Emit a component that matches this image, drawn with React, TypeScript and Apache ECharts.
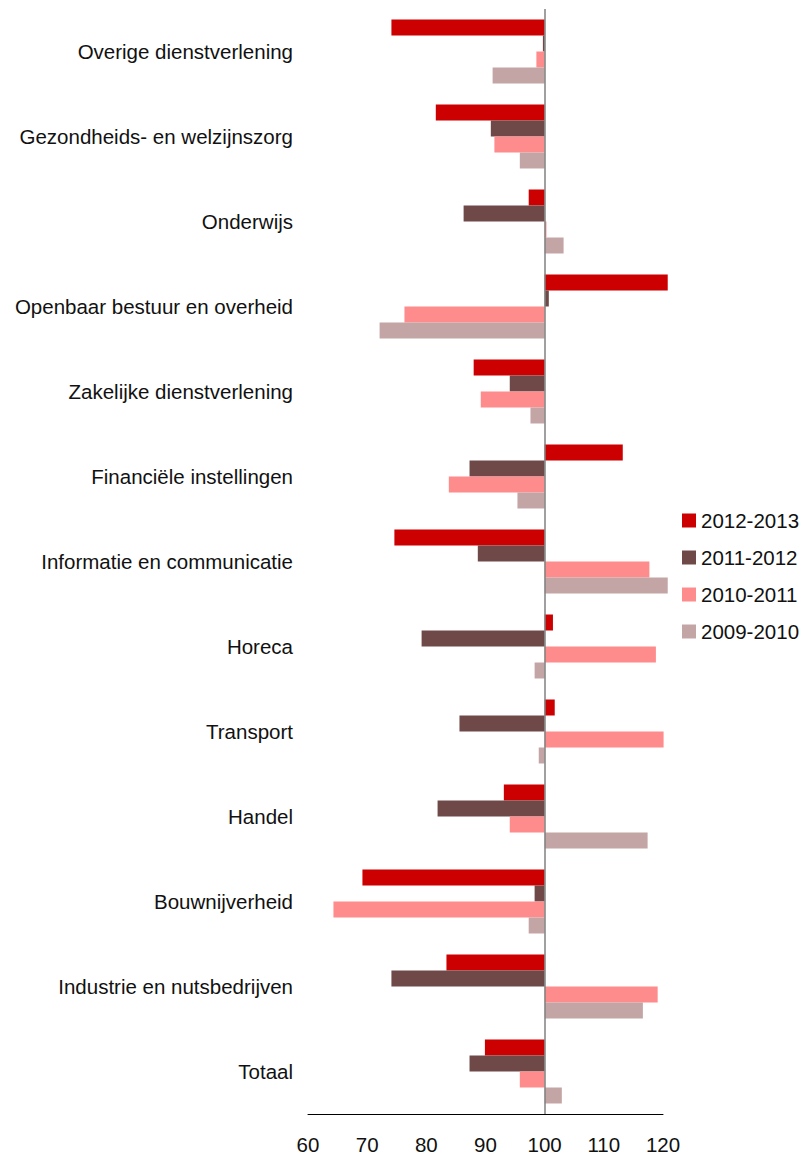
import React, { useEffect, useRef } from "react";
import * as echarts from "echarts";

const categories = [
  "Overige dienstverlening",
  "Gezondheids- en welzijnszorg",
  "Onderwijs",
  "Openbaar bestuur en overheid",
  "Zakelijke dienstverlening",
  "Financiële instellingen",
  "Informatie en communicatie",
  "Horeca",
  "Transport",
  "Handel",
  "Bouwnijverheid",
  "Industrie en nutsbedrijven",
  "Totaal",
];

const seriesNames = ["2012-2013", "2011-2012", "2010-2011", "2009-2010"];

const v2012_2013 = [74.1, 81.6, 97.3, 120.8, 88.0, 113.2, 74.6, 101.4, 101.7, 93.1, 69.2, 83.4, 89.9];
const v2011_2012 = [99.7, 90.9, 86.3, 100.7, 94.1, 87.3, 88.7, 79.2, 85.6, 81.9, 98.3, 74.1, 87.3];
const v2010_2011 = [98.6, 91.5, 100.3, 76.3, 89.2, 83.8, 117.7, 118.8, 120.1, 94.1, 64.3, 119.1, 95.8];
const v2009_2010 = [91.2, 95.8, 103.2, 72.1, 97.6, 95.4, 120.8, 98.3, 99.0, 117.4, 97.3, 116.6, 102.9];

const seriesValues = [v2012_2013, v2011_2012, v2010_2011, v2009_2010];
const colors = ["#CC0000", "#6F4848", "#FF8C8C", "#C4A5A6"];

const BASE = 100;
const axisMin = 60;
const axisMax = 120;
const axisStep = 10;

export default function App() {
  const ref = useRef<HTMLDivElement>(null);

  useEffect(() => {
    if (!ref.current) return;
    const chart = echarts.init(ref.current, null, { renderer: "svg" });
    const font = "'Liberation Sans', Arial, Helvetica, sans-serif";
    const series: any[] = seriesNames.map((name, i) => ({
      name,
      type: "bar",
      data: seriesValues[i].map((v) => +(v - BASE).toFixed(2)),
      barWidth: 16,
      barGap: "0%",
      clip: false,
      itemStyle: { color: colors[i] },
      emphasis: { disabled: true },
      z: 2,
    }));
    series[0].markLine = {
      silent: true,
      symbol: "none",
      label: { show: false },
      lineStyle: { color: "#808080", width: 1.5, type: "solid" },
      data: [{ xAxis: BASE - BASE }],
      z: 5,
    };

    chart.setOption({
      animation: false,
      backgroundColor: "#ffffff",
      textStyle: { fontFamily: font },
      grid: { left: 308, right: 141, top: 9, bottom: 43, containLabel: false },
      legend: {
        orient: "vertical",
        left: 682,
        top: 510,
        padding: 0,
        icon: "rect",
        itemWidth: 14,
        itemHeight: 14,
        itemGap: 16,
        data: seriesNames,
        textStyle: { fontSize: 20.5, color: "#111111", fontFamily: font, lineHeight: 20 },
      },
      xAxis: {
        type: "value",
        min: axisMin - BASE,
        max: axisMax - BASE,
        interval: axisStep,
        axisLine: { show: true, onZero: false, lineStyle: { color: "#000000", width: 1 } },
        axisTick: { show: false },
        splitLine: { show: false },
        axisLabel: {
          fontSize: 20.5,
          color: "#111111",
          fontFamily: font,
          margin: 20,
          formatter: (v: number) => String(Math.round(v + BASE)),
        },
      },
      yAxis: {
        type: "category",
        inverse: true,
        data: categories,
        axisLine: { show: false },
        axisTick: { show: false },
        splitLine: { show: false },
        axisLabel: {
          fontSize: 20.5,
          color: "#111111",
          fontFamily: font,
          margin: 15,
        },
      },
      series,
    });
    return () => chart.dispose();
  }, []);

  return (
    <div
      ref={ref}
      style={{ position: "absolute", left: 0, top: 0, width: 804, height: 1157, background: "#fff" }}
    />
  );
}
